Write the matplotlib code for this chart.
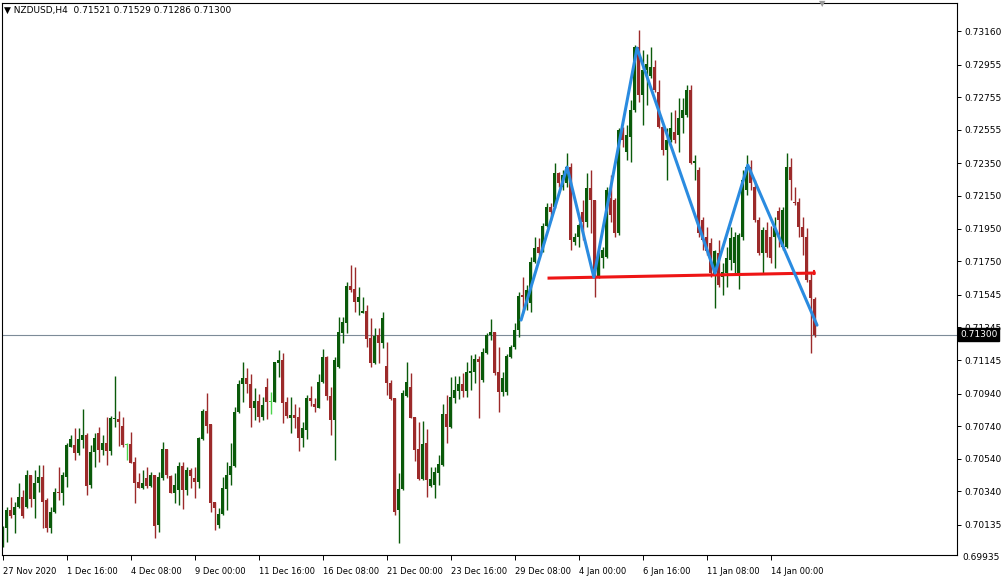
import numpy as np
import matplotlib.pyplot as plt
from matplotlib.transforms import blended_transform_factory

# NZDUSD H4 candles (one entry per bar)
opens = [
    0.70012, 0.70116, 0.70226, 0.70196, 0.70245, 0.70306, 0.70245, 0.70441, 0.70294, 0.70392,
    0.70428, 0.70288, 0.70116, 0.70214, 0.70337, 0.70330, 0.70428, 0.70612, 0.70624, 0.70575,
    0.70655, 0.70686, 0.70379, 0.70582, 0.70698, 0.70594, 0.70637, 0.70588, 0.70784, 0.70784,
    0.70741, 0.70624, 0.70631, 0.70520, 0.70398, 0.70361, 0.70422, 0.70373, 0.70441, 0.70134,
    0.70422, 0.70600, 0.70435, 0.70330, 0.70349, 0.70496, 0.70349, 0.70471, 0.70422, 0.70398,
    0.70661, 0.70833, 0.70753, 0.70275, 0.70134, 0.70202, 0.70355, 0.70441, 0.70496, 0.70827,
    0.70998, 0.71035, 0.70998, 0.70851, 0.70894, 0.70796, 0.70980, 0.70888, 0.70888, 0.71127,
    0.71145, 0.70888, 0.70790, 0.70808, 0.70796, 0.70667, 0.70716, 0.70912, 0.70876, 0.70851,
    0.71010, 0.71163, 0.70925, 0.70778, 0.71102, 0.71310, 0.71372, 0.71598, 0.71580, 0.71500,
    0.71433, 0.71445, 0.71280, 0.71127, 0.71298, 0.71249, 0.71108, 0.71004, 0.70912, 0.70226,
    0.70355, 0.70925, 0.70980, 0.70796, 0.70600, 0.70416, 0.70637, 0.70373, 0.70379, 0.70453,
    0.70502, 0.70814, 0.70735, 0.70912, 0.70955, 0.70998, 0.70955, 0.71065, 0.71072, 0.71151,
    0.71023, 0.71188, 0.71298, 0.71316, 0.71072, 0.70949, 0.70949, 0.71163, 0.71225, 0.71329,
    0.71543, 0.71494, 0.71494, 0.71745, 0.71837, 0.71819, 0.71966, 0.72082, 0.72082, 0.72290,
    0.72205, 0.72230, 0.72327, 0.71868, 0.71898, 0.72052, 0.71990, 0.72199, 0.72125, 0.71653,
    0.71770, 0.71776, 0.72137, 0.72125, 0.71923, 0.72548, 0.72419, 0.72511, 0.72676, 0.73062,
    0.72768, 0.72921, 0.72884, 0.72940, 0.72787, 0.72572, 0.72431, 0.72493, 0.72542, 0.72523,
    0.72627, 0.72646, 0.72799, 0.72352, 0.72309, 0.72003, 0.71898, 0.71862, 0.71666, 0.71800,
    0.71653, 0.71678, 0.71758, 0.71739, 0.71678, 0.71898, 0.72186, 0.72327, 0.72205, 0.72003,
    0.71800, 0.71941, 0.71898, 0.71898, 0.72058, 0.71837, 0.71837, 0.72327, 0.72113, 0.72113,
    0.71960, 0.71898, 0.71635, 0.71521]
highs = [
    0.70128, 0.70245, 0.70306, 0.70275, 0.70392, 0.70349, 0.70471, 0.70441, 0.70471, 0.70502,
    0.70502, 0.70300, 0.70245, 0.70361, 0.70490, 0.70459, 0.70637, 0.70686, 0.70729, 0.70729,
    0.70845, 0.70698, 0.70624, 0.70698, 0.70735, 0.70686, 0.70796, 0.70802, 0.71047, 0.70833,
    0.70796, 0.70637, 0.70704, 0.70551, 0.70453, 0.70471, 0.70490, 0.70459, 0.70441, 0.70459,
    0.70643, 0.70600, 0.70441, 0.70453, 0.70520, 0.70520, 0.70490, 0.70484, 0.70490, 0.70673,
    0.70845, 0.70943, 0.70753, 0.70275, 0.70239, 0.70428, 0.70520, 0.70637, 0.70857, 0.71023,
    0.71133, 0.71096, 0.71059, 0.70974, 0.70937, 0.70918, 0.71035, 0.70949, 0.71133, 0.71206,
    0.71188, 0.70918, 0.70918, 0.70876, 0.70857, 0.70765, 0.70931, 0.70986, 0.70912, 0.71059,
    0.71212, 0.71170, 0.70980, 0.71163, 0.71408, 0.71408, 0.71623, 0.71727, 0.71715, 0.71592,
    0.71531, 0.71482, 0.71402, 0.71341, 0.71341, 0.71439, 0.71255, 0.71023, 0.70912, 0.70453,
    0.70961, 0.71133, 0.71065, 0.70796, 0.70765, 0.70771, 0.70722, 0.70490, 0.70490, 0.70563,
    0.70876, 0.70931, 0.71041, 0.71047, 0.71047, 0.71065, 0.71133, 0.71176, 0.71182, 0.71170,
    0.71219, 0.71310, 0.71396, 0.71316, 0.71225, 0.71072, 0.71182, 0.71237, 0.71372, 0.71562,
    0.71653, 0.71604, 0.71776, 0.71898, 0.71892, 0.71984, 0.72107, 0.72107, 0.72352, 0.72297,
    0.72309, 0.72413, 0.72352, 0.71923, 0.71984, 0.72125, 0.72290, 0.72309, 0.72125, 0.71819,
    0.71837, 0.72205, 0.72278, 0.72137, 0.72566, 0.72572, 0.72584, 0.72738, 0.73074, 0.73166,
    0.73044, 0.73020, 0.73062, 0.72983, 0.72860, 0.72584, 0.72566, 0.72664, 0.72676, 0.72750,
    0.72750, 0.72829, 0.72829, 0.72401, 0.72327, 0.72021, 0.71960, 0.71892, 0.71819, 0.71880,
    0.71739, 0.71837, 0.71960, 0.71929, 0.71923, 0.72309, 0.72401, 0.72370, 0.72248, 0.72021,
    0.71960, 0.71990, 0.71966, 0.72021, 0.72082, 0.72082, 0.72413, 0.72382, 0.72205, 0.72137,
    0.72021, 0.71954, 0.71684, 0.71529]
lows = [
    0.70000, 0.70030, 0.70177, 0.70085, 0.70239, 0.70177, 0.70239, 0.70245, 0.70177, 0.70337,
    0.70116, 0.70092, 0.70085, 0.70208, 0.70288, 0.70257, 0.70367, 0.70612, 0.70533, 0.70563,
    0.70606, 0.70318, 0.70361, 0.70490, 0.70520, 0.70563, 0.70502, 0.70563, 0.70735, 0.70618,
    0.70612, 0.70533, 0.70514, 0.70269, 0.70361, 0.70355, 0.70361, 0.70367, 0.70055, 0.70092,
    0.70410, 0.70422, 0.70330, 0.70269, 0.70257, 0.70232, 0.70318, 0.70361, 0.70300, 0.70361,
    0.70655, 0.70698, 0.70214, 0.70104, 0.70116, 0.70196, 0.70226, 0.70379, 0.70490, 0.70820,
    0.70888, 0.70943, 0.70735, 0.70778, 0.70765, 0.70778, 0.70784, 0.70814, 0.70888, 0.71041,
    0.70759, 0.70790, 0.70698, 0.70729, 0.70588, 0.70612, 0.70661, 0.70863, 0.70827, 0.70851,
    0.71004, 0.70900, 0.70686, 0.70533, 0.71096, 0.71249, 0.71310, 0.71562, 0.71439, 0.71421,
    0.71433, 0.71225, 0.71102, 0.71121, 0.71127, 0.71219, 0.70931, 0.70900, 0.70196, 0.70024,
    0.70349, 0.70918, 0.70790, 0.70526, 0.70410, 0.70410, 0.70306, 0.70367, 0.70300, 0.70379,
    0.70496, 0.70637, 0.70729, 0.70882, 0.70906, 0.70918, 0.70918, 0.70961, 0.71004, 0.70790,
    0.71010, 0.71182, 0.71268, 0.71053, 0.70827, 0.70925, 0.70931, 0.71157, 0.71212, 0.71286,
    0.71433, 0.71451, 0.71439, 0.71739, 0.71788, 0.71806, 0.71960, 0.72003, 0.72076, 0.72205,
    0.72186, 0.72205, 0.71819, 0.71849, 0.71837, 0.71880, 0.71960, 0.71923, 0.71531, 0.71647,
    0.71709, 0.71770, 0.71990, 0.71898, 0.71911, 0.72450, 0.72370, 0.72358, 0.72664, 0.72725,
    0.72584, 0.72707, 0.72872, 0.72787, 0.72566, 0.72401, 0.72248, 0.72480, 0.72474, 0.72419,
    0.72536, 0.72634, 0.72346, 0.72248, 0.71898, 0.71819, 0.71788, 0.71653, 0.71463, 0.71592,
    0.71543, 0.71592, 0.71696, 0.71666, 0.71580, 0.71880, 0.72156, 0.72186, 0.71990, 0.71788,
    0.71678, 0.71776, 0.71739, 0.71709, 0.71837, 0.71819, 0.71831, 0.72125, 0.72094, 0.71898,
    0.71788, 0.71623, 0.71188, 0.71286]
closes = [
    0.70116, 0.70226, 0.70189, 0.70245, 0.70306, 0.70189, 0.70441, 0.70294, 0.70392, 0.70428,
    0.70275, 0.70116, 0.70214, 0.70337, 0.70330, 0.70441, 0.70624, 0.70661, 0.70575, 0.70661,
    0.70686, 0.70373, 0.70582, 0.70667, 0.70594, 0.70637, 0.70588, 0.70790, 0.70790, 0.70765,
    0.70624, 0.70624, 0.70514, 0.70392, 0.70361, 0.70392, 0.70373, 0.70441, 0.70128, 0.70428,
    0.70600, 0.70441, 0.70330, 0.70379, 0.70496, 0.70349, 0.70471, 0.70435, 0.70398, 0.70667,
    0.70833, 0.70741, 0.70269, 0.70239, 0.70202, 0.70361, 0.70441, 0.70496, 0.70827, 0.70998,
    0.71035, 0.70998, 0.70851, 0.70894, 0.70796, 0.70869, 0.70888, 0.70888, 0.71133, 0.71145,
    0.70882, 0.70802, 0.70808, 0.70790, 0.70667, 0.70729, 0.70912, 0.70894, 0.70857, 0.71010,
    0.71163, 0.70925, 0.70778, 0.71145, 0.71316, 0.71378, 0.71598, 0.71574, 0.71500, 0.71531,
    0.71445, 0.71274, 0.71127, 0.71292, 0.71249, 0.71402, 0.71004, 0.70906, 0.70214, 0.70355,
    0.70943, 0.71010, 0.70790, 0.70594, 0.70416, 0.70631, 0.70410, 0.70416, 0.70459, 0.70508,
    0.70814, 0.70735, 0.70918, 0.70961, 0.70998, 0.70955, 0.71072, 0.71078, 0.71151, 0.71133,
    0.71194, 0.71298, 0.71316, 0.71065, 0.70949, 0.71035, 0.71170, 0.71225, 0.71329, 0.71537,
    0.71531, 0.71574, 0.71745, 0.71831, 0.71800, 0.71966, 0.72082, 0.72052, 0.72290, 0.72230,
    0.72278, 0.72327, 0.71880, 0.71898, 0.71972, 0.71990, 0.72199, 0.72125, 0.71653, 0.71776,
    0.71819, 0.72186, 0.72033, 0.71923, 0.72554, 0.72493, 0.72523, 0.72676, 0.73062, 0.72768,
    0.72921, 0.72958, 0.72940, 0.72799, 0.72572, 0.72431, 0.72493, 0.72566, 0.72493, 0.72627,
    0.72676, 0.72799, 0.72352, 0.72364, 0.71923, 0.71880, 0.71813, 0.71678, 0.71813, 0.71604,
    0.71684, 0.71770, 0.71892, 0.71898, 0.71911, 0.72248, 0.72327, 0.72230, 0.72003, 0.71800,
    0.71941, 0.71800, 0.71770, 0.71954, 0.72003, 0.72064, 0.72327, 0.72248, 0.72107, 0.71960,
    0.71898, 0.71635, 0.71525, 0.71300]

# time axis labels, one every 16 bars
time_labels = ["27 Nov 2020", "1 Dec 16:00", "4 Dec 08:00", "9 Dec 00:00", "11 Dec 16:00",
               "16 Dec 08:00", "21 Dec 00:00", "23 Dec 16:00", "29 Dec 08:00", "4 Jan 00:00",
               "6 Jan 16:00", "11 Jan 08:00", "14 Jan 00:00"]
price_labels = ["0.69935", "0.70135", "0.70340", "0.70540", "0.70740", "0.70940", "0.71145",
                "0.71345", "0.71545", "0.71750", "0.71950", "0.72150", "0.72350", "0.72555",
                "0.72755", "0.72955", "0.73160"]

# hand drawn head & shoulders zigzag and neckline (bar index, price)
zz_bars = [129.6, 141.1, 147.8, 158.6, 178.1, 186.3, 203.6]
zz_prices = [0.71390, 0.72327, 0.71653, 0.73056, 0.71678, 0.72339, 0.71359]
neck_bars = [136.6, 202.9]
neck_prices = [0.71647, 0.71678]

BULL = '#0a5a0a'
BEAR = '#9c2a2a'
DOJI = '#4cd44c'

W, H = 1004, 578
fig = plt.figure(figsize=(W / 100, H / 100), dpi=100)
ax = fig.add_axes([2 / W, 23 / H, 955 / W, 552 / H])

o = np.array(opens)
hi = np.array(highs)
lo = np.array(lows)
c = np.array(closes)
bars = np.arange(len(c))
cols = np.where(c > o, BULL, np.where(c < o, BEAR, DOJI))

ax.vlines(bars, lo, hi, colors=cols, linewidth=1.0, zorder=2)
body_h = np.maximum(np.abs(c - o), 0.00004)
ax.bar(bars, body_h, bottom=np.minimum(o, c), width=0.75, color=cols, linewidth=0, zorder=2)

# bid line + label
trans = blended_transform_factory(ax.transAxes, ax.transData)
ax.axhline(c[-1], color='#7d8b98', linewidth=0.8, zorder=1)
ax.annotate(f'{c[-1]:.5f}', xy=(1, c[-1]), xycoords=trans, xytext=(2.2, 0),
            textcoords='offset points', ha='left', va='center', fontsize=6.5,
            color='white', zorder=10, annotation_clip=False,
            bbox=dict(boxstyle='square,pad=0.2', fc='black', ec='black'))

# pattern lines
ax.plot(zz_bars, zz_prices, color='#2a8be0', linewidth=2.2, solid_capstyle='round',
        solid_joinstyle='round', zorder=4)
ax.plot(neck_bars, neck_prices, color='#ee1515', linewidth=2.2, zorder=3)
ax.plot([neck_bars[-1]] * 2, [neck_prices[-1] - 0.00004, neck_prices[-1] + 0.00010],
        color='#ee1515', linewidth=1.5, zorder=3)

ax.set_xlim(-0.18, 238.6)
ax.set_ylim(0.69951, 0.73332)

# price axis on the right
price_vals = [float(s) for s in price_labels]
ax.yaxis.tick_right()
ax.set_yticks(price_vals[1:])
ax.set_yticklabels(price_labels[1:])
ax.tick_params(axis='y', length=3, width=0.7, pad=2, labelsize=6.5, colors='black')
# lowest label sits just under the frame
ax.annotate(price_labels[0], xy=(1, price_vals[0]), xycoords=trans, xytext=(3.6, 0),
            textcoords='offset points', ha='left', va='center', fontsize=6.5,
            annotation_clip=False)

ax.set_xticks(np.arange(0, 16 * len(time_labels), 16))
ax.set_xticklabels(time_labels)
ax.tick_params(axis='x', length=3.5, width=0.7, pad=5, labelsize=6.0)
for lbl in ax.get_xticklabels():
    lbl.set_ha('left')

for sp in ax.spines.values():
    sp.set_linewidth(0.8)
    sp.set_color('black')

fig.text(4 / W, 1 - 10 / H,
         f'\u25bc NZDUSD,H4  {opens[-1]:.5f} {highs[-1]:.5f} {lows[-1]:.5f} {closes[-1]:.5f}',
         fontsize=6.5, va='center', ha='left')
fig.text(822 / W, 1 - 4 / H, '\u25bc', fontsize=6, color='#9a9a9a', va='center', ha='center')

fig.savefig('out.png', dpi=100, facecolor='white')
